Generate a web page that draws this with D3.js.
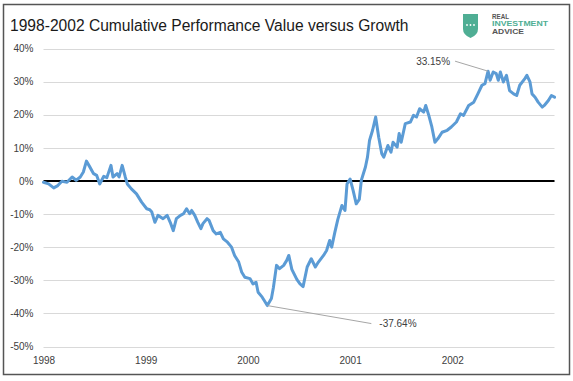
<!DOCTYPE html>
<html><head><meta charset="utf-8">
<script src="https://cdn.jsdelivr.net/npm/d3@7"></script>
<style>
html,body{margin:0;padding:0;background:#fff;}
svg{display:block;}
</style></head>
<body>
<svg id="chart" width="573" height="381"></svg>
<script>
// ---- data (decimal years and cumulative % performance) ----
const dates = [1998.00,1998.05,1998.10,1998.14,1998.18,1998.23,1998.28,1998.32,1998.36,1998.39,1998.42,1998.45,1998.49,1998.52,1998.55,1998.59,1998.62,1998.66,1998.68,1998.72,1998.74,1998.77,1998.80,1998.82,1998.86,1998.91,1998.96,1999.01,1999.04,1999.06,1999.09,1999.12,1999.17,1999.21,1999.24,1999.27,1999.30,1999.34,1999.37,1999.40,1999.43,1999.45,1999.48,1999.51,1999.54,1999.56,1999.60,1999.62,1999.66,1999.69,1999.73,1999.76,1999.80,1999.84,1999.87,1999.91,1999.94,1999.97,2000.02,2000.05,2000.08,2000.10,2000.14,2000.16,2000.19,2000.23,2000.25,2000.28,2000.31,2000.35,2000.38,2000.40,2000.43,2000.48,2000.51,2000.54,2000.58,2000.62,2000.66,2000.69,2000.74,2000.77,2000.80,2000.82,2000.85,2000.88,2000.92,2000.95,2000.97,2001.00,2001.03,2001.06,2001.09,2001.11,2001.15,2001.17,2001.19,2001.22,2001.25,2001.28,2001.31,2001.33,2001.37,2001.40,2001.42,2001.46,2001.48,2001.50,2001.54,2001.59,2001.62,2001.65,2001.68,2001.72,2001.74,2001.77,2001.80,2001.83,2001.86,2001.90,2001.95,2001.99,2002.04,2002.08,2002.11,2002.16,2002.21,2002.25,2002.29,2002.32,2002.35,2002.37,2002.40,2002.43,2002.45,2002.47,2002.50,2002.53,2002.56,2002.60,2002.63,2002.66,2002.71,2002.73,2002.76,2002.78,2002.81,2002.84,2002.88,2002.90,2002.94,2002.97,2003.00];
const values = [-0.4,-0.9,-2.1,-1.4,-0.1,-0.4,1.2,0.2,1.2,2.7,6.0,4.4,2.2,1.7,-0.9,1.4,1.0,4.7,1.2,2.2,1.2,4.7,1.2,-0.9,-2.4,-3.9,-6.4,-8.4,-8.7,-9.4,-12.5,-10.4,-11.4,-10.4,-12.5,-15.0,-11.4,-10.4,-9.9,-8.4,-9.9,-8.9,-10.4,-12.5,-14.4,-12.9,-11.4,-11.9,-15.0,-16.0,-15.5,-17.5,-18.5,-20.0,-22.5,-24.5,-27.6,-29.1,-29.5,-31.1,-30.6,-33.6,-35.1,-36.1,-37.64,-35.5,-32.1,-25.5,-26.5,-25.5,-24.0,-22.5,-26.7,-29.8,-31.1,-31.9,-26.0,-23.5,-26.0,-24.5,-22.5,-21.0,-18.0,-20.0,-15.6,-11.6,-7.4,-8.9,-0.9,0.6,-2.9,-6.9,-5.6,0.2,4.2,7.2,12.2,15.3,19.3,13.2,8.2,7.2,10.7,8.7,11.7,10.2,14.3,11.7,17.3,17.8,19.8,19.3,21.8,20.8,22.8,19.8,16.3,11.7,12.8,14.7,15.3,16.3,17.8,20.3,19.8,22.8,23.8,26.3,28.9,29.4,33.15,30.4,32.9,32.4,30.4,32.9,29.9,31.9,27.3,26.3,25.8,28.9,30.9,31.9,29.9,26.3,25.3,23.8,22.3,22.8,24.3,25.8,25.3];
const yTicks = [40,30,20,10,0,-10,-20,-30,-40,-50];
const xTicks = [1998,1999,2000,2001,2002];
const title = "1998-2002 Cumulative Performance Value versus Growth";
const annotations = [
  {label:"33.15%", date:2002.35, value:33.15, anchor:"end", tdx:-38, tdy:-10},
  {label:"-37.64%", date:2000.19, value:-37.64, anchor:"start", tdx:112, tdy:18}
];
const logoLines = ["REAL","INVESTMENT","ADVICE"];

// ---- drawing ----
const svg = d3.select("#chart");
const font = "'Liberation Sans', Arial, sans-serif";

// frame
svg.append("rect").attr("x",3.5).attr("y",4.5).attr("width",566).attr("height",370)
  .attr("fill","#fff").attr("stroke","#555").attr("stroke-width",1.5);

const x = d3.scaleLinear().domain([1998,2003]).range([43.5,554.5]);
const y = d3.scaleLinear().domain([-50,40]).range([346.5,48.5]);

// gridlines
svg.append("g").selectAll("line").data(yTicks).join("line")
  .attr("x1",x(1998)).attr("x2",x(2003))
  .attr("y1",d=>Math.round(y(d))+0.5).attr("y2",d=>Math.round(y(d))+0.5)
  .attr("stroke","#d9d9d9").attr("stroke-width",1);

// y labels via axis
const yAxis = svg.append("g").attr("transform",`translate(${x(1998)},0)`)
  .call(d3.axisLeft(y).tickValues(yTicks).tickFormat(d=>d+"%").tickSize(0).tickPadding(10));
yAxis.select(".domain").remove();
yAxis.selectAll("text").attr("font-family",font).attr("font-size",10).attr("fill","#404040");

// x labels via axis
const xAxis = svg.append("g").attr("transform",`translate(0,${y(-50)})`)
  .call(d3.axisBottom(x).tickValues(xTicks).tickFormat(d3.format("d")).tickSize(0).tickPadding(10));
xAxis.select(".domain").remove();
xAxis.selectAll("text").attr("font-family",font).attr("font-size",10).attr("fill","#404040");

// zero line
svg.append("line").attr("x1",x(1998)).attr("x2",x(2003))
  .attr("y1",y(0)).attr("y2",y(0)).attr("stroke","#000").attr("stroke-width",2);

// series
const data = dates.map((d,i)=>({d, v: values[i]}));
svg.append("path").datum(data)
  .attr("fill","none").attr("stroke","#5b9bd5").attr("stroke-width",3)
  .attr("stroke-linejoin","round").attr("stroke-linecap","round")
  .attr("d", d3.line().x(p=>x(p.d)).y(p=>y(p.v)));

// annotations
annotations.forEach(a=>{
  const px = x(a.date), py = y(a.value);
  const tx = px + a.tdx, ty = py + a.tdy;
  svg.append("line").attr("x1",px).attr("y1",py)
    .attr("x2", a.anchor==="end" ? tx+5 : tx-8).attr("y2",ty)
    .attr("stroke","#a6a6a6").attr("stroke-width",1);
  svg.append("text").attr("x",tx).attr("y",ty).attr("dy","0.35em")
    .attr("text-anchor",a.anchor).attr("font-family",font).attr("font-size",10)
    .attr("fill","#404040").text(a.label);
});

// title
svg.append("text").attr("x",10).attr("y",31).attr("font-family",font)
  .attr("font-size",15.6).attr("fill","#1a1a1a").text(title);

// logo
const lg = svg.append("g");
lg.append("path")
  .attr("d","M463,14 L478,14 L478,29 Q478,35 470.5,38 Q463,35 463,29 Z")
  .attr("fill","#4fae94");
[467,470.5,474].forEach(cx=>lg.append("circle").attr("cx",cx).attr("cy",25).attr("r",0.9).attr("fill","#fff"));
const logoColors = ["#555","#4fae94","#555"];
const logoWidths = [17,56,32];
logoLines.forEach((t,i)=>{
  lg.append("text").attr("x",492).attr("y",18.5+i*7.5).attr("font-family",font)
    .attr("font-weight","bold").attr("font-size",6.4).attr("fill",logoColors[i])
    .attr("textLength",logoWidths[i]).attr("lengthAdjust","spacingAndGlyphs").text(t);
});
</script>
</body></html>
